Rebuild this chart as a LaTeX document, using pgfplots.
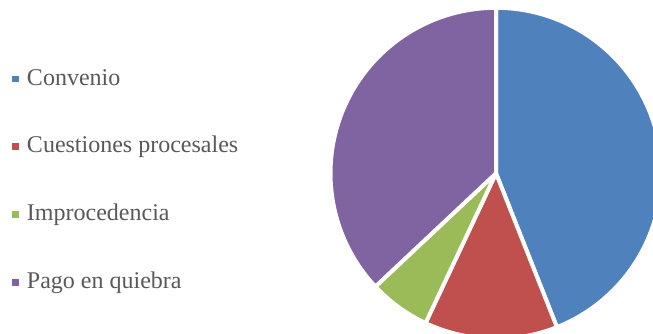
\documentclass[border=0pt]{standalone}
\usepackage{pgfplots}
\pgfplotsset{compat=1.18}
\usepackage{fontspec}
\setmainfont{Liberation Serif}
\definecolor{cblue}{HTML}{4F81BD}
\definecolor{cred}{HTML}{C0504D}
\definecolor{cgreen}{HTML}{9BBB59}
\definecolor{cpurple}{HTML}{8064A2}
\definecolor{txt}{HTML}{595959}
\begin{document}
\begin{tikzpicture}
\begin{axis}[
  scale only axis, x=0.75pt, y=0.75pt,
  xmin=0, xmax=653, ymin=0, ymax=334,
  axis line style={draw=none}, xtick=\empty, ytick=\empty,
  clip=true,
  legend cell align=left,
  legend style={at={(axis cs:12,266.3)}, anchor=north west, draw=none, fill=none,
    inner sep=0pt, outer sep=0pt, row sep=33.8pt, column sep=0pt,
    font=\fontsize{18}{21.6}\selectfont, text=txt,
    nodes={inner sep=0pt, text height=13pt, text depth=4pt}},
  sq/.style={legend image code/.code={\path[fill=#1, draw=none] (0pt,-2.6pt) rectangle (5.25pt,2.6pt); \path[draw=none, fill=none] (0pt,0pt) -- (11.25pt,0pt);}},
  pie/.style={draw=white, line width=3pt, line join=round, samples=120, variable=\t},
]
\addplot[pie, fill=cblue, sq=cblue, domain=0:44] ({496+165.5*sin(3.6*\t)},{160.7+165.5*cos(3.6*\t)}) -- (axis cs:496,160.7) -- cycle;
\addlegendentry{Convenio}
\addplot[pie, fill=cred, sq=cred, domain=44:57] ({496+165.5*sin(3.6*\t)},{160.7+165.5*cos(3.6*\t)}) -- (axis cs:496,160.7) -- cycle;
\addlegendentry{Cuestiones procesales}
\addplot[pie, fill=cgreen, sq=cgreen, domain=57:63] ({496+165.5*sin(3.6*\t)},{160.7+165.5*cos(3.6*\t)}) -- (axis cs:496,160.7) -- cycle;
\addlegendentry{Improcedencia}
\addplot[pie, fill=cpurple, sq=cpurple, domain=63:100] ({496+165.5*sin(3.6*\t)},{160.7+165.5*cos(3.6*\t)}) -- (axis cs:496,160.7) -- cycle;
\addlegendentry{Pago en quiebra}
\end{axis}
\pgfresetboundingbox
\useasboundingbox (current axis.south west) rectangle (current axis.north east);
\end{tikzpicture}
\end{document}
